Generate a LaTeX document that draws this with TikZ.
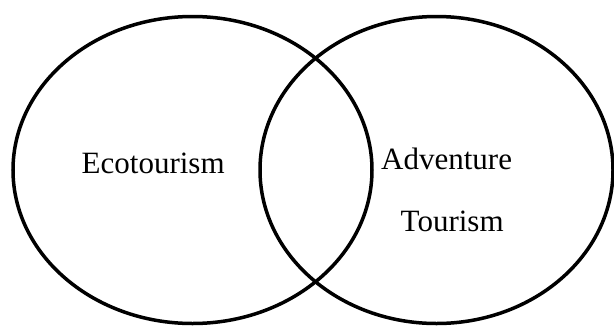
\documentclass[tikz,border=0pt]{standalone}
\usepackage{fontspec}
\setmainfont{Liberation Serif}
\usetikzlibrary{shapes.geometric}
\tikzset{
  setcircle/.style={draw=black, line width=3.5pt, ellipse, inner sep=0pt},
  label/.style={inner sep=0pt, anchor=base west, font=\fontsize{31}{37}\selectfont}
}
\begin{document}
\begin{tikzpicture}[x=1pt,y=-1pt]
\useasboundingbox (0,0) rectangle (614,325);
\node[setcircle, minimum width=359pt, minimum height=307pt] (eco) at (192.5,170) {};
\node[setcircle, minimum width=353pt, minimum height=307pt] (adv) at (436.5,170) {};
\node[label] (ecot) at (81.5,173.3) {Ecotourism};
\node[label] (advt) at (381,169.5) {Adventure};
\node[label] (tour) at (400.5,231.7) {Tourism};
\end{tikzpicture}
\end{document}
